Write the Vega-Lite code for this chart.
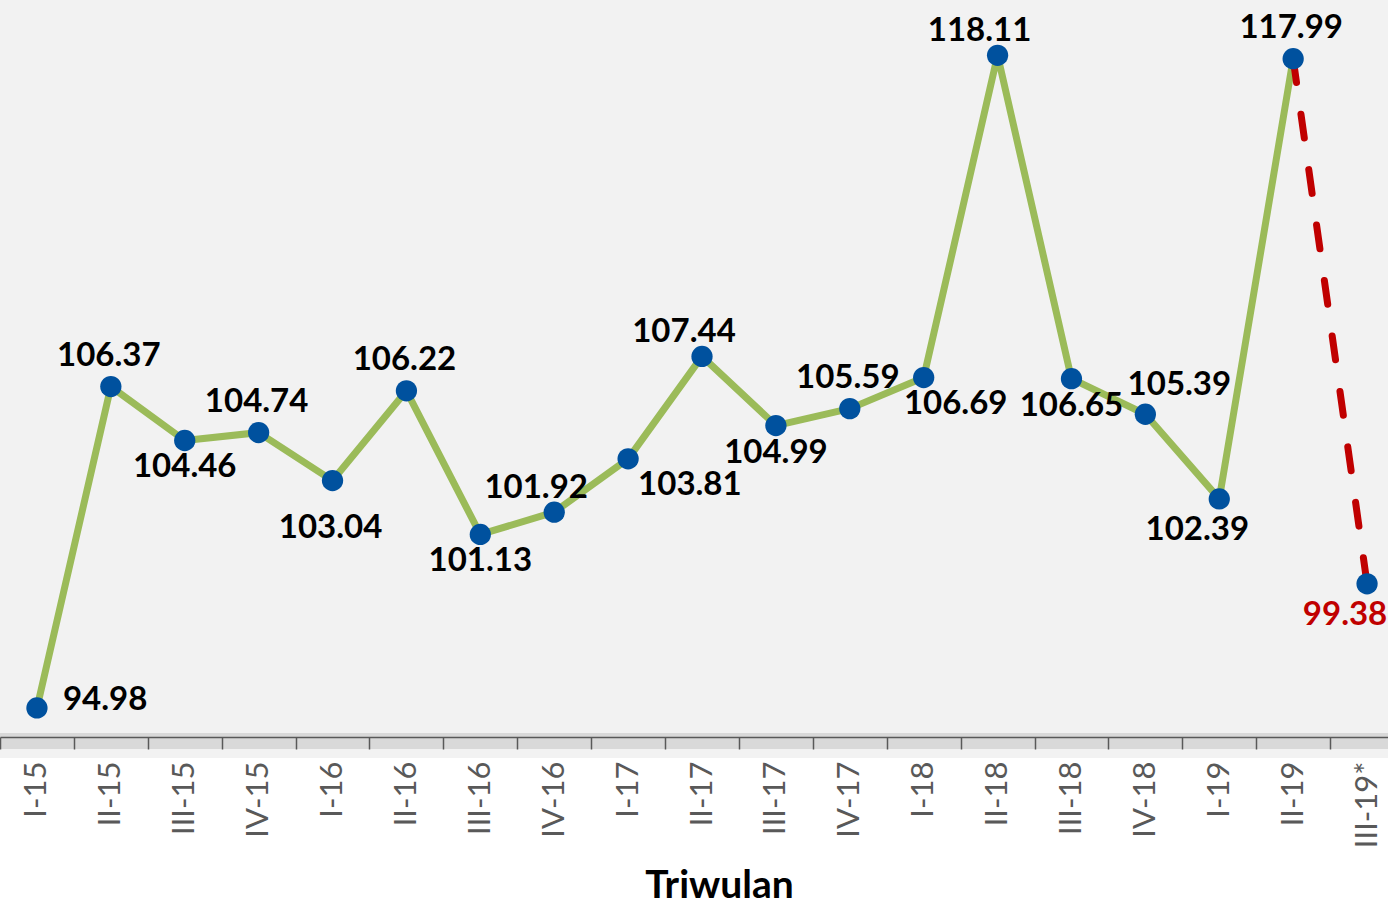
{
  "$schema": "https://vega.github.io/schema/vega-lite/v6.json",
  "width": 1388,
  "height": 737,
  "autosize": {"type": "none"},
  "padding": {"left": 0, "top": 0, "right": 0, "bottom": 169},
  "background": "#ffffff",
  "config": {"view": {"fill": "#f2f2f2", "stroke": null}},
  "datasets": {
    "rows": [
      {"q": "I-15", "v": 94.98, "series": "actual", "pos": "right"},
      {"q": "II-15", "v": 106.37, "series": "actual", "pos": "top"},
      {"q": "III-15", "v": 104.46, "series": "actual", "pos": "bottom"},
      {"q": "IV-15", "v": 104.74, "series": "actual", "pos": "top"},
      {"q": "I-16", "v": 103.04, "series": "actual", "pos": "bottomlow"},
      {"q": "II-16", "v": 106.22, "series": "actual", "pos": "top"},
      {"q": "III-16", "v": 101.13, "series": "actual", "pos": "bottom"},
      {"q": "IV-16", "v": 101.92, "series": "actual", "pos": "topleft"},
      {"q": "I-17", "v": 103.81, "series": "actual", "pos": "rightbelow"},
      {"q": "II-17", "v": 107.44, "series": "actual", "pos": "topleft"},
      {"q": "III-17", "v": 104.99, "series": "actual", "pos": "bottom"},
      {"q": "IV-17", "v": 105.59, "series": "actual", "pos": "top"},
      {"q": "I-18", "v": 106.69, "series": "actual", "pos": "bottomright"},
      {"q": "II-18", "v": 118.11, "series": "actual", "pos": "topleft"},
      {"q": "III-18", "v": 106.65, "series": "actual", "pos": "bottom"},
      {"q": "IV-18", "v": 105.39, "series": "actual", "pos": "topright"},
      {"q": "I-19", "v": 102.39, "series": "actual", "pos": "bottomleft"},
      {"q": "II-19", "v": 117.99, "series": "actual", "pos": "top"},
      {"q": "III-19*", "v": 99.38, "series": "projection", "pos": "bottomleft"}
    ]
  },
  "layer": [
    {
      "data": {"values": [{}]},
      "mark": {"type": "rect", "color": "#d9d9d9"},
      "encoding": {
        "y": {"datum": 94.094, "type": "quantitative", "scale": {"domain": [93.952, 120.071], "nice": false, "zero": false}, "axis": null},
        "y2": {"datum": 93.527}
      }
    },
    {
      "data": {"values": [{}]},
      "mark": {"type": "rect", "color": "#f2f2f2"},
      "encoding": {
        "y": {"datum": 93.527, "type": "quantitative", "scale": {"domain": [93.952, 120.071], "nice": false, "zero": false}, "axis": null},
        "y2": {"datum": 93.208}
      }
    },
    {
      "data": {"name": "rows"},
      "encoding": {
        "x": {
          "field": "q",
          "type": "nominal",
          "sort": null,
          "scale": {"type": "band", "range": [0, 1404], "paddingInner": 0, "paddingOuter": 0},
          "axis": {
            "title": "Triwulan",
            "labelAngle": -90,
            "labelAlign": "right",
            "labelBaseline": "middle",
            "labelFont": "Lato",
            "labelFontSize": 31,
            "labelColor": "#595959",
            "labelPadding": 12,
            "labelOverlap": false,
            "labelBound": false,
            "tickBand": "extent",
            "tickSize": 12,
            "tickColor": "#595959",
            "tickWidth": 1.5,
            "domainColor": "#595959",
            "domainWidth": 1.5,
            "titleFont": "Lato",
            "titleFontSize": 39,
            "titleFontWeight": "bold",
            "titleColor": "#000000",
            "titlePadding": 19,
            "titleX": 719,
            "zindex": 1
          }
        },
        "y": {"field": "v", "type": "quantitative", "scale": {"domain": [93.952, 120.071], "nice": false, "zero": false}, "axis": null}
      },
      "layer": [
        {
          "transform": [{"filter": "datum.series === 'actual'"}],
          "mark": {"type": "line", "color": "#9bbb59", "strokeWidth": 7, "strokeJoin": "round", "strokeCap": "round"}
        },
        {
          "transform": [{"filter": "datum.q === 'II-19' || datum.series === 'projection'"}],
          "mark": {"type": "line", "color": "#c00000", "strokeWidth": 7, "strokeDash": [24, 32], "strokeCap": "round"}
        },
        {
          "mark": {"type": "circle", "color": "#00519e", "opacity": 1, "size": 452}
        },
        {
          "transform": [{"filter": "datum.pos === 'top'"}],
          "mark": {"type": "text", "font": "Lato", "fontSize": 33, "fontWeight": "bold", "align": "center", "baseline": "middle", "dx": -2, "dy": -31},
          "encoding": {
            "text": {"field": "v", "type": "quantitative", "format": ".2f"},
            "color": {"field": "series", "type": "nominal", "scale": {"domain": ["actual", "projection"], "range": ["#000000", "#c00000"]}, "legend": null}
          }
        },
        {
          "transform": [{"filter": "datum.pos === 'topleft'"}],
          "mark": {"type": "text", "font": "Lato", "fontSize": 33, "fontWeight": "bold", "align": "center", "baseline": "middle", "dx": -18, "dy": -24},
          "encoding": {
            "text": {"field": "v", "type": "quantitative", "format": ".2f"},
            "color": {"field": "series", "type": "nominal", "scale": {"domain": ["actual", "projection"], "range": ["#000000", "#c00000"]}, "legend": null}
          }
        },
        {
          "transform": [{"filter": "datum.pos === 'topright'"}],
          "mark": {"type": "text", "font": "Lato", "fontSize": 33, "fontWeight": "bold", "align": "center", "baseline": "middle", "dx": 34, "dy": -29},
          "encoding": {
            "text": {"field": "v", "type": "quantitative", "format": ".2f"},
            "color": {"field": "series", "type": "nominal", "scale": {"domain": ["actual", "projection"], "range": ["#000000", "#c00000"]}, "legend": null}
          }
        },
        {
          "transform": [{"filter": "datum.pos === 'bottom'"}],
          "mark": {"type": "text", "font": "Lato", "fontSize": 33, "fontWeight": "bold", "align": "center", "baseline": "middle", "dx": 0, "dy": 27},
          "encoding": {
            "text": {"field": "v", "type": "quantitative", "format": ".2f"},
            "color": {"field": "series", "type": "nominal", "scale": {"domain": ["actual", "projection"], "range": ["#000000", "#c00000"]}, "legend": null}
          }
        },
        {
          "transform": [{"filter": "datum.pos === 'bottomlow'"}],
          "mark": {"type": "text", "font": "Lato", "fontSize": 33, "fontWeight": "bold", "align": "center", "baseline": "middle", "dx": -2, "dy": 47},
          "encoding": {
            "text": {"field": "v", "type": "quantitative", "format": ".2f"},
            "color": {"field": "series", "type": "nominal", "scale": {"domain": ["actual", "projection"], "range": ["#000000", "#c00000"]}, "legend": null}
          }
        },
        {
          "transform": [{"filter": "datum.pos === 'bottomleft'"}],
          "mark": {"type": "text", "font": "Lato", "fontSize": 33, "fontWeight": "bold", "align": "center", "baseline": "middle", "dx": -22, "dy": 31},
          "encoding": {
            "text": {"field": "v", "type": "quantitative", "format": ".2f"},
            "color": {"field": "series", "type": "nominal", "scale": {"domain": ["actual", "projection"], "range": ["#000000", "#c00000"]}, "legend": null}
          }
        },
        {
          "transform": [{"filter": "datum.pos === 'bottomright'"}],
          "mark": {"type": "text", "font": "Lato", "fontSize": 33, "fontWeight": "bold", "align": "center", "baseline": "middle", "dx": 32, "dy": 26},
          "encoding": {
            "text": {"field": "v", "type": "quantitative", "format": ".2f"},
            "color": {"field": "series", "type": "nominal", "scale": {"domain": ["actual", "projection"], "range": ["#000000", "#c00000"]}, "legend": null}
          }
        },
        {
          "transform": [{"filter": "datum.pos === 'right'"}],
          "mark": {"type": "text", "font": "Lato", "fontSize": 33, "fontWeight": "bold", "align": "left", "baseline": "middle", "dx": 26, "dy": -8},
          "encoding": {
            "text": {"field": "v", "type": "quantitative", "format": ".2f"},
            "color": {"field": "series", "type": "nominal", "scale": {"domain": ["actual", "projection"], "range": ["#000000", "#c00000"]}, "legend": null}
          }
        },
        {
          "transform": [{"filter": "datum.pos === 'rightbelow'"}],
          "mark": {"type": "text", "font": "Lato", "fontSize": 33, "fontWeight": "bold", "align": "left", "baseline": "middle", "dx": 10, "dy": 26},
          "encoding": {
            "text": {"field": "v", "type": "quantitative", "format": ".2f"},
            "color": {"field": "series", "type": "nominal", "scale": {"domain": ["actual", "projection"], "range": ["#000000", "#c00000"]}, "legend": null}
          }
        }
      ]
    }
  ]
}
